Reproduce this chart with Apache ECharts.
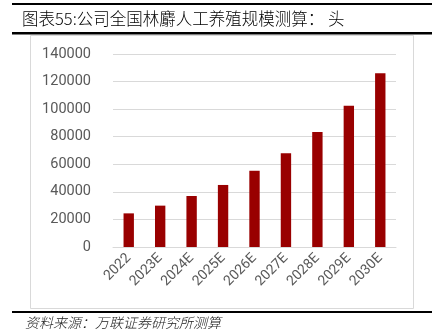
<!DOCTYPE html>
<html><head><meta charset="utf-8">
<script src="https://cdn.jsdelivr.net/npm/echarts@6/dist/echarts.min.js"></script>
<style>html,body{margin:0;padding:0;background:#fff}#c{width:432px;height:334px}</style>
</head><body><div id="c"></div>
<script>
const categories = ['2022','2023E','2024E','2025E','2026E','2027E','2028E','2029E','2030E'];
const values = [24400, 30000, 37000, 45000, 55300, 68000, 83500, 102500, 126000];
const yTicks = { min: 0, max: 140000, interval: 20000 };
const titleText = '图表55:公司全国林麝人工养殖规模测算： 头';
const sourceText = '资料来源：万联证券研究所测算';

const chart = echarts.init(document.getElementById('c'), null, {renderer:'canvas'});
chart.setOption({
  animation:false,
  backgroundColor:'#fff',
  grid:{left:113,right:36,top:54,bottom:87,containLabel:false},
  xAxis:{type:'category',data:categories,
    axisLine:{show:true,lineStyle:{color:'#d9d9d9',width:1}},
    axisTick:{show:false},
    axisLabel:{rotate:45,color:'#595959',fontSize:14,fontFamily:'Roboto, Arial, sans-serif',margin:9,interval:0}},
  yAxis:{type:'value',min:yTicks.min,max:yTicks.max,interval:yTicks.interval,
    axisLine:{show:false},axisTick:{show:false},
    splitLine:{lineStyle:{color:'#d9d9d9',width:1}},
    axisLabel:{color:'#595959',fontSize:14.5,fontFamily:'Roboto, Arial, sans-serif',margin:22,formatter:function(v){return String(v);}}},
  series:[{type:'bar',data:values,barWidth:'33%',itemStyle:{color:'#990000'}}],
  graphic:[
    {type:'rect',shape:{x:12,y:3,width:420,height:2},style:{fill:'#000'},silent:true},
    {type:'text',left:22,top:10,style:{text:titleText,fontSize:16.5,fontWeight:300,fill:'#000',fontFamily:'"Noto Sans CJK SC", sans-serif'}},
    {type:'rect',shape:{x:12,y:32,width:420,height:2.5},style:{fill:'#000'},silent:true},
    {type:'rect',shape:{x:30.5,y:35.5,width:383,height:273},style:{fill:'none',stroke:'#d9d9d9',lineWidth:1},silent:true,z:-1},
    {type:'rect',shape:{x:12,y:311,width:420,height:2},style:{fill:'#000'},silent:true},
    {type:'text',left:25,top:316,style:{text:sourceText,fontSize:14,fontWeight:300,fill:'#222',fontStyle:'italic',fontFamily:'"Noto Sans CJK SC", sans-serif'}}
  ]
});
</script></body></html>
